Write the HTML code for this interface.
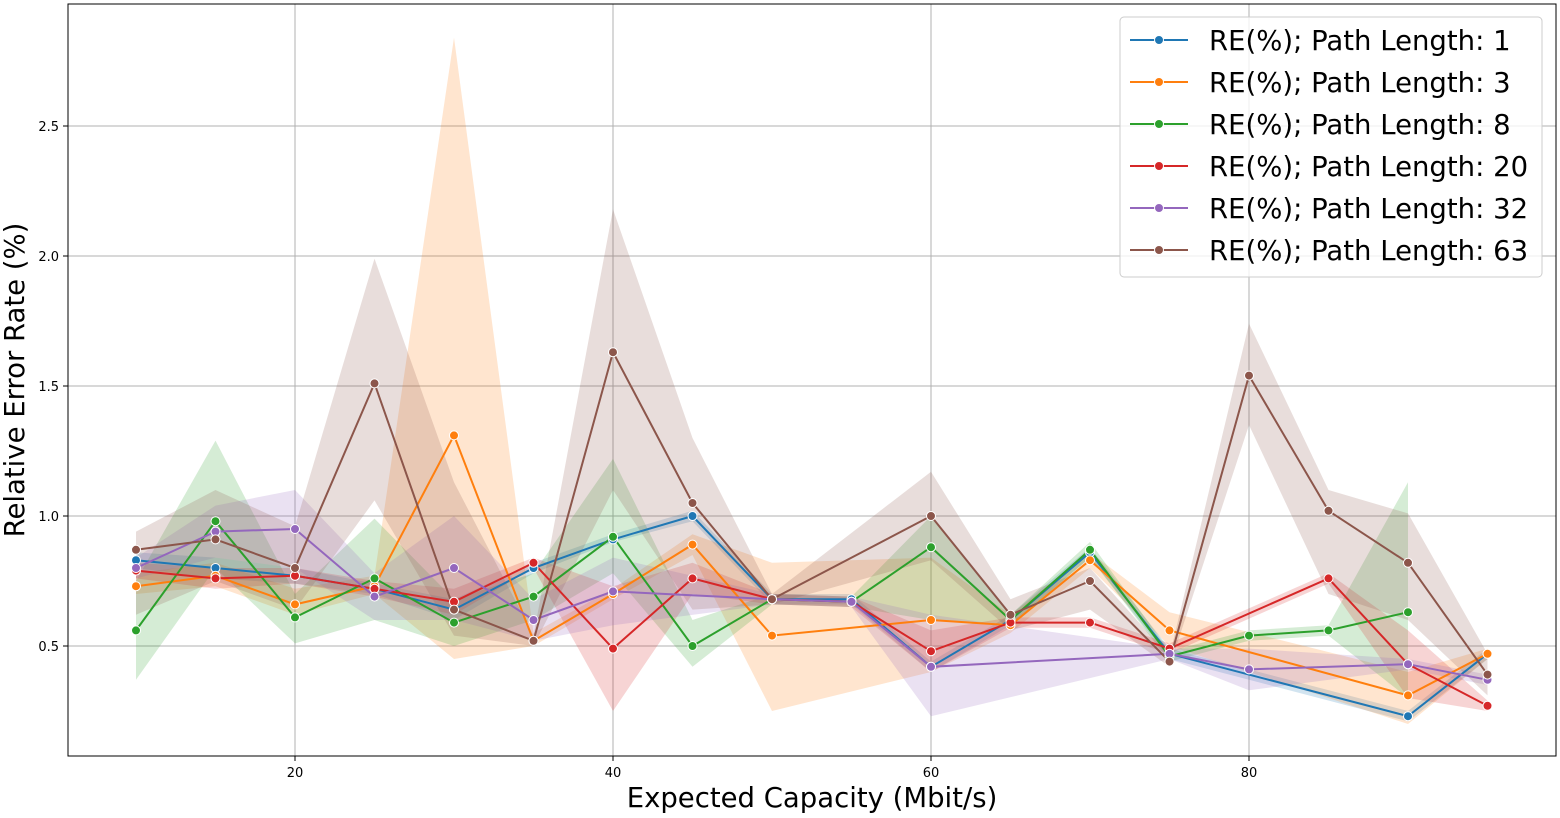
<!DOCTYPE html>
<html><head><meta charset="utf-8"><style>
body{margin:0;background:#fff;font-family:"DejaVu Sans",sans-serif}
</style></head><body>
<svg id="chart" width="1560" height="814" xmlns="http://www.w3.org/2000/svg" font-family="DejaVu Sans, Liberation Sans, sans-serif">
<g id="grid"></g>
<g id="bands"></g>
<g id="lines"></g>
<rect x="68" y="4" width="1488" height="752" fill="none" stroke="#000" stroke-width="1"/>
<g id="ticks"></g>
<text x="812" y="807" font-size="27.5" text-anchor="middle">Expected Capacity (Mbit/s)</text>
<text transform="translate(24,380) rotate(-90)" font-size="27.5" text-anchor="middle">Relative Error Rate (%)</text>
<g id="legend"></g>
</svg>
<script>
const xs=[10,15,20,25,30,35,40,45,50,55,60,65,70,75,80,85,90,95];
const names=["RE(%); Path Length: 1","RE(%); Path Length: 3","RE(%); Path Length: 8","RE(%); Path Length: 20","RE(%); Path Length: 32","RE(%); Path Length: 63"];
const colors=["#1f77b4","#ff7f0e","#2ca02c","#d62728","#9467bd","#8c564b"];
const s1=[0.83,0.80,0.77,0.72,0.64,0.80,0.91,1.00,0.68,0.68,0.42,0.60,0.86,0.47,null,null,0.23,0.47];
const s3=[0.73,0.77,0.66,0.73,1.31,0.52,0.70,0.89,0.54,null,0.60,0.58,0.83,0.56,null,null,0.31,0.47];
const s8=[0.56,0.98,0.61,0.76,0.59,0.69,0.92,0.50,0.68,0.67,0.88,0.60,0.87,0.46,0.54,0.56,0.63,null];
const s20=[0.79,0.76,0.77,0.72,0.67,0.82,0.49,0.76,0.68,0.67,0.48,0.59,0.59,0.49,null,0.76,0.43,0.27];
const s32=[0.80,0.94,0.95,0.69,0.80,0.60,0.71,null,0.68,0.67,0.42,null,null,0.47,0.41,null,0.43,0.37];
const s63=[0.87,0.91,0.80,1.51,0.64,0.52,1.63,1.05,0.68,null,1.00,0.62,0.75,0.44,1.54,1.02,0.82,0.39];
const lo1=[0.80,0.76,0.74,0.70,0.60,0.78,0.90,0.98,0.66,0.66,0.40,0.58,0.84,0.45,null,null,0.21,0.45];
const hi1=[0.86,0.84,0.80,0.74,0.68,0.82,0.93,1.02,0.70,0.70,0.44,0.62,0.88,0.49,null,null,0.25,0.49];
const lo3=[0.70,0.73,0.62,0.70,0.45,0.50,0.68,0.85,0.25,null,0.40,0.55,0.80,0.50,null,null,0.20,0.45];
const hi3=[0.78,0.82,0.72,0.77,2.84,0.55,0.72,0.93,0.82,null,0.84,0.62,0.86,0.63,null,null,0.40,0.49];
const lo8=[0.37,0.80,0.51,0.60,0.50,0.60,0.78,0.42,0.66,0.65,0.60,0.58,0.84,0.44,0.52,0.54,0.30,null];
const hi8=[0.75,1.29,0.70,0.99,0.68,0.78,1.22,0.60,0.70,0.69,1.00,0.62,0.90,0.48,0.56,0.58,1.13,null];
const lo20=[0.76,0.72,0.74,0.69,0.62,0.80,0.25,0.70,0.66,0.65,0.40,0.57,0.57,0.47,null,0.74,0.30,0.25];
const hi20=[0.82,0.80,0.80,0.75,0.72,0.84,0.73,0.82,0.70,0.69,0.56,0.61,0.61,0.51,null,0.78,0.56,0.29];
const lo32=[0.76,0.84,0.80,0.60,0.60,0.52,0.58,null,0.66,0.65,0.23,null,null,0.45,0.33,null,0.41,0.35];
const hi32=[0.84,1.04,1.10,0.78,1.00,0.68,0.84,null,0.70,0.69,0.62,null,null,0.49,0.49,null,0.45,0.39];
const lo63=[0.62,0.75,0.64,1.06,0.54,0.50,1.10,0.64,0.66,null,0.83,0.56,0.64,0.42,1.35,0.70,0.60,0.31];
const hi63=[0.94,1.10,0.96,1.99,1.13,0.54,2.18,1.30,0.70,null,1.17,0.68,0.80,0.46,1.74,1.10,1.01,0.47];
const series=[s1,s3,s8,s20,s32,s63];
const lows=[lo1,lo3,lo8,lo20,lo32,lo63];
const highs=[hi1,hi3,hi8,hi20,hi32,hi63];
const xTicks=[20,40,60,80];
const yTicks=[0.5,1.0,1.5,2.0,2.5];
const X=v=>295+(v-20)*15.9;
const Y=v=>646-(v-0.5)*260;
const NS="http://www.w3.org/2000/svg";
function mk(t,a,p){const e=document.createElementNS(NS,t);for(const k in a)e.setAttribute(k,a[k]);p.appendChild(e);return e;}
const grid=document.getElementById('grid'),ticks=document.getElementById('ticks');
xTicks.forEach(v=>{
 const l=mk('line',{x1:X(v),x2:X(v),y1:4,y2:756,stroke:'#b0b0b0','stroke-width':1},grid);
 
 
 mk('line',{x1:X(v),x2:X(v),y1:756,y2:761,stroke:'#000'},ticks);
 const t=mk('text',{x:X(v),y:777,'font-size':13,'text-anchor':'middle'},ticks);t.textContent=v;
 
 
});
yTicks.forEach(v=>{
 const l=mk('line',{x1:68,x2:1556,y1:Y(v),y2:Y(v),stroke:'#b0b0b0','stroke-width':1},grid);
 
 
 mk('line',{x1:63,x2:68,y1:Y(v),y2:Y(v),stroke:'#000'},ticks);
 const t=mk('text',{x:59,y:Y(v)+5,'font-size':13,'text-anchor':'end'},ticks);t.textContent=v.toFixed(1);
 
 
});
const bands=document.getElementById('bands'),lines=document.getElementById('lines');
series.forEach((s,i)=>{
 const idx=xs.map((_,j)=>j).filter(j=>s[j]!=null);
 const up=idx.map(j=>X(xs[j])+','+Y(highs[i][j]));
 const dn=idx.slice().reverse().map(j=>X(xs[j])+','+Y(lows[i][j]));
 const b=mk('polygon',{points:up.concat(dn).join(' '),fill:colors[i],'fill-opacity':0.2},bands);
 
 
 const pl=mk('polyline',{points:idx.map(j=>X(xs[j])+','+Y(s[j])).join(' '),fill:'none',stroke:colors[i],'stroke-width':2},lines);
 
 
});
series.forEach((s,i)=>{
 xs.forEach((x,j)=>{if(s[j]==null)return;
  const c=mk('circle',{cx:X(x),cy:Y(s[j]),r:4.5,fill:colors[i],stroke:'#fff','stroke-width':1},lines);
  
  
 });
});
const lg=document.getElementById('legend');
const box=mk('rect',{x:1120,y:17,width:422,height:260,rx:4,fill:'#fff','fill-opacity':0.8,stroke:'#ccc'},lg);


names.forEach((n,i)=>{
 const y=40+i*42;
 const g=mk('g',{},lg);
 
 
 mk('line',{x1:1130,x2:1188,y1:y,y2:y,stroke:colors[i],'stroke-width':2},g);
 mk('circle',{cx:1159,cy:y,r:4.5,fill:colors[i],stroke:'#fff'},g);
 const t=mk('text',{x:1209,y:y+10,'font-size':27.5},g);t.textContent=n;
});
</script>
</body></html>
